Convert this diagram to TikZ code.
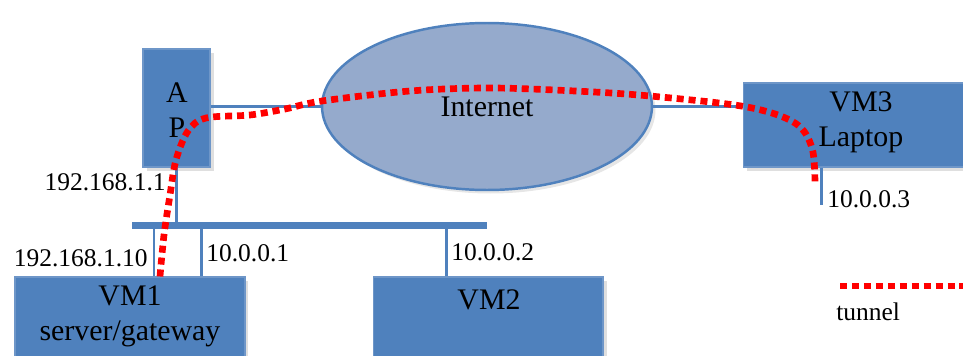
\documentclass[tikz,border=0pt]{standalone}
\usepackage{fontspec}
\setmainfont{Liberation Serif}
\usetikzlibrary{positioning,shapes.geometric,shadows}

\definecolor{boxblue}{RGB}{79,129,189}
\definecolor{edgeblue}{RGB}{110,150,200}
\definecolor{cloudblue}{RGB}{149,170,204}

\tikzset{
	box/.style={draw=edgeblue, line width=0.6pt, fill=boxblue, inner sep=0pt,
		drop shadow={opacity=0.25, shadow xshift=2pt, shadow yshift=-2pt}},
	wire/.style={draw=boxblue, line width=1.7pt},
	tunnel/.style={draw=red, line width=3.8pt, dash pattern=on 4pt off 2.8pt},
	big/.style={font=\fontsize{17}{20}\selectfont, inner sep=0pt, align=center},
	small/.style={font=\fontsize{14.5}{16}\selectfont, inner sep=0pt},
}

\begin{document}
\begin{tikzpicture}[x=0.02cm, y=-0.02cm]
	\useasboundingbox (0,0) rectangle (963,355);

	% boxes
	\node[box, minimum width=1.34cm, minimum height=2.36cm] (ap) at (176.5,108) {};
	\node[box, minimum width=4.6cm, minimum height=1.96cm] (vm1) at (130,326) {};
	\node[box, minimum width=4.6cm, minimum height=1.96cm] (vm2) at (488,326) {};
	\node[box, minimum width=4.74cm, minimum height=1.68cm] (vm3) at (861.5,125) {};
	\node[ellipse, draw=boxblue, line width=1.4pt, fill=cloudblue, minimum width=6.6cm, minimum height=3.34cm,
		drop shadow={opacity=0.2, shadow xshift=2pt, shadow yshift=-2pt}] (inet) at (487,106.5) {};
	\node[fill=boxblue, inner sep=0pt, minimum width=7.1cm, minimum height=0.14cm] (bus) at (309.5,225.5) {};

	% box texts
	\node[big] (aptxt) at (177,110) {A\\P};
	\node[big] (inettxt) at (inet) {Internet};
	\node[big] (vm1txt) at (130,316) {VM1\\server/gateway};
	\node[big] (vm2txt) at (489,300) {VM2};
	\node[big] (vm3txt) at (861,122) {VM3\\Laptop};

	% wires
	\draw[wire] (ap.east |- inet.west) -- (inet.west);
	\draw[wire] (inet.east) -- (inet.east -| vm3.west);
	\draw[wire] (ap.south) -- (ap.south |- bus.north);
	\coordinate (vm1a) at ([xshift=0.48cm]vm1.north);
	\coordinate (vm1b) at ([xshift=1.44cm]vm1.north);
	\coordinate (vm2a) at ([xshift=-0.83cm]vm2.north);
	\coordinate (vm3a) at (821,205);
	\draw[wire] (vm1a) -- (vm1a |- bus.south);
	\draw[wire] (vm1b) -- (vm1b |- bus.south);
	\draw[wire] (vm2a) -- (vm2a |- bus.south);
	\draw[wire] (vm3.south -| vm3a) -- (vm3a);

	% addresses
	\node[small, anchor=east] (apip) at (166,182) {192.168.1.1};
	\node[small, anchor=east] (vm1ip) at (148,258) {192.168.1.10};
	\node[small, anchor=west] (vm1net) at (206,253) {10.0.0.1};
	\node[small, anchor=west] (vm2net) at (451,252) {10.0.0.2};
	\node[small, anchor=west] (vm3net) at (827,199) {10.0.0.3};

	% tunnel
	\coordinate (t0) at ([xshift=0.6cm]vm1.north);
	\coordinate (t1) at (815,185);
	\draw[tunnel] plot[smooth, tension=0.55] coordinates {(t0) (164,235) (170,195) (176,160) (188,131) (206,118)
		(250,115) (285,109) (322,101) (410,91) (490,88) (575,91) (650,96) (747,107) (795,123) (812,148) (t1)};

	% legend
	\coordinate (lg0) at (840,286);
	\coordinate (lg1) at (963,286);
	\draw[tunnel] (lg0) -- (lg1);
	\node[small, anchor=west] (lgtxt) at (836,312) {tunnel};
\end{tikzpicture}
\end{document}
